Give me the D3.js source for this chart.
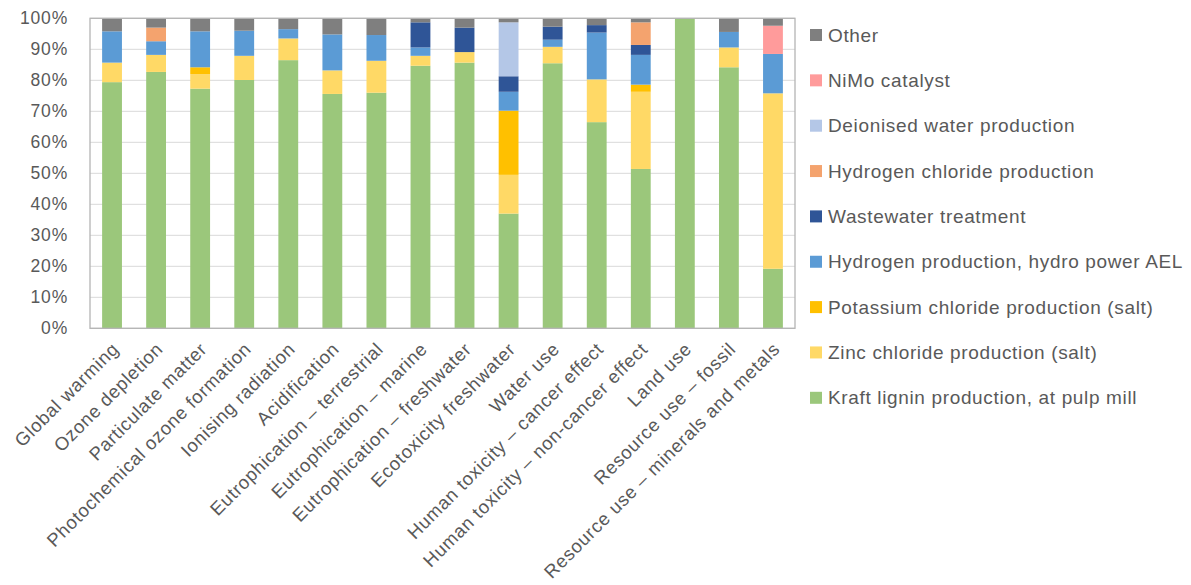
<!DOCTYPE html>
<html><head><meta charset="utf-8">
<script src="https://cdn.jsdelivr.net/npm/d3@7"></script>
<style>
html,body{margin:0;padding:0;background:#fff;}
svg text{font-family:"Liberation Sans",Arial,sans-serif;fill:#595959;}
</style></head>
<body><svg id="c" width="1191" height="585"></svg>
<script>
const categories = ["Global warming","Ozone depletion","Particulate matter","Photochemical ozone formation","Ionising radiation","Acidification","Eutrophication – terrestrial","Eutrophication – marine","Eutrophication – freshwater","Ecotoxicity freshwater","Water use","Human toxicity – cancer effect","Human toxicity – non-cancer effect","Land use","Resource use – fossil","Resource use – minerals and metals"];
const seriesNames = ["Kraft lignin production, at pulp mill","Zinc chloride production (salt)","Potassium chloride production (salt)","Hydrogen production, hydro power AEL","Wastewater treatment","Hydrogen chloride production","Deionised water production","NiMo catalyst","Other"];
const seriesColors = ["#9BC77B","#FFD966","#FFC000","#5B9BD5","#2F5597","#F4A36E","#B4C7E7","#FF9B9B","#7F7F7F"];
const kraft      = [79.4,82.7,77.3,80.1,86.5,75.6,76.0,84.7,85.7,37.0,85.5,66.5,51.4,100,84.2,19.2];
const zinc       = [6.3,5.5,4.7,7.8,7.0,7.6,10.3,3.2,3.4,12.5,5.3,13.8,24.9,0,6.4,56.6];
const potassium  = [0,0,2.2,0,0,0,0,0,0,20.7,0,0,2.3,0,0,0];
const hydrogen   = [10.1,4.4,11.6,8.1,3.0,11.6,8.3,2.7,0,6.1,2.3,15.1,9.6,0,5.0,12.7];
const wastewater = [0,0,0,0,0,0,0,8.1,7.9,5.0,4.2,2.4,3.2,0,0,0];
const hcl        = [0,4.4,0,0,0,0,0,0,0,0,0,0,7.3,0,0,0];
const deionised  = [0,0,0,0,0,0,0,0,0,17.4,0,0,0,0,0,0];
const nimo       = [0,0,0,0,0,0,0,0,0,0,0,0,0,0,0,9.1];
const other      = [4.2,3.0,4.2,4.0,3.5,5.2,5.4,1.3,3.0,1.3,2.7,2.2,1.3,0,4.4,2.4];
const yTicks = [0,10,20,30,40,50,60,70,80,90,100];

const seriesValues = [kraft,zinc,potassium,hydrogen,wastewater,hcl,deionised,nimo,other];
const rows = categories.map((c,i)=>{const r={cat:c};seriesNames.forEach((s,j)=>r[s]=seriesValues[j][i]);return r;});

const svg = d3.select("#c");
const L=90,R=795,T=18.3,B=328.3;
const x = d3.scaleBand().domain(categories).range([L,R]).paddingInner(0.55).paddingOuter(0.275);
const y = d3.scaleLinear().domain([0,100]).range([B,T]);

// gridlines
svg.append("g").selectAll("line").data(yTicks).join("line")
  .attr("x1",L).attr("x2",R).attr("y1",d=>y(d)).attr("y2",d=>y(d))
  .attr("stroke","#d9d9d9").attr("stroke-width",1);

const stack = d3.stack().keys(seriesNames)(rows);
svg.append("g").selectAll("g").data(stack).join("g")
  .attr("fill",(d,i)=>seriesColors[i])
  .selectAll("rect").data(d=>d).join("rect")
  .attr("x",d=>x(d.data.cat)).attr("width",x.bandwidth())
  .attr("y",d=>y(d[1])).attr("height",d=>Math.max(0,y(d[0])-y(d[1])));

// plot border
svg.append("rect").attr("x",L).attr("y",T).attr("width",R-L).attr("height",B-T)
  .attr("fill","none").attr("stroke","#b4b4b4").attr("stroke-width",1.3);

// y axis
const yAxis = d3.axisLeft(y).tickValues(yTicks).tickFormat(d=>d+"%").tickSize(0).tickPadding(22);
const ya = svg.append("g").attr("transform",`translate(${L},0)`).call(yAxis);
ya.select(".domain").remove();
ya.selectAll("text").style("font-size","17.5px").style("letter-spacing","0.8px").attr("fill","#595959");

// x axis
const xAxis = d3.axisBottom(x).tickSize(0).tickPadding(0);
const xa = svg.append("g").attr("transform",`translate(0,${B})`).call(xAxis);
xa.select(".domain").remove();
xa.selectAll("text").style("font-size","18.5px").style("letter-spacing","0.7px").attr("fill","#595959")
  .attr("text-anchor","end").attr("dy","0").attr("y",0)
  .attr("transform","translate(8,22) rotate(-45)");

// legend
const leg = svg.append("g").attr("transform","translate(810,35)");
const order = seriesNames.map((s,i)=>i).reverse();
const li = leg.selectAll("g").data(order).join("g").attr("transform",(d,k)=>`translate(0,${k*45.35})`);
li.append("rect").attr("x",0).attr("y",-6).attr("width",12).attr("height",12).attr("fill",d=>seriesColors[d]);
li.append("text").attr("x",18).attr("y",0).attr("dy","0.35em").style("font-size","19px").style("letter-spacing","0.65px")
  .text(d=>seriesNames[d]);
</script></body></html>
